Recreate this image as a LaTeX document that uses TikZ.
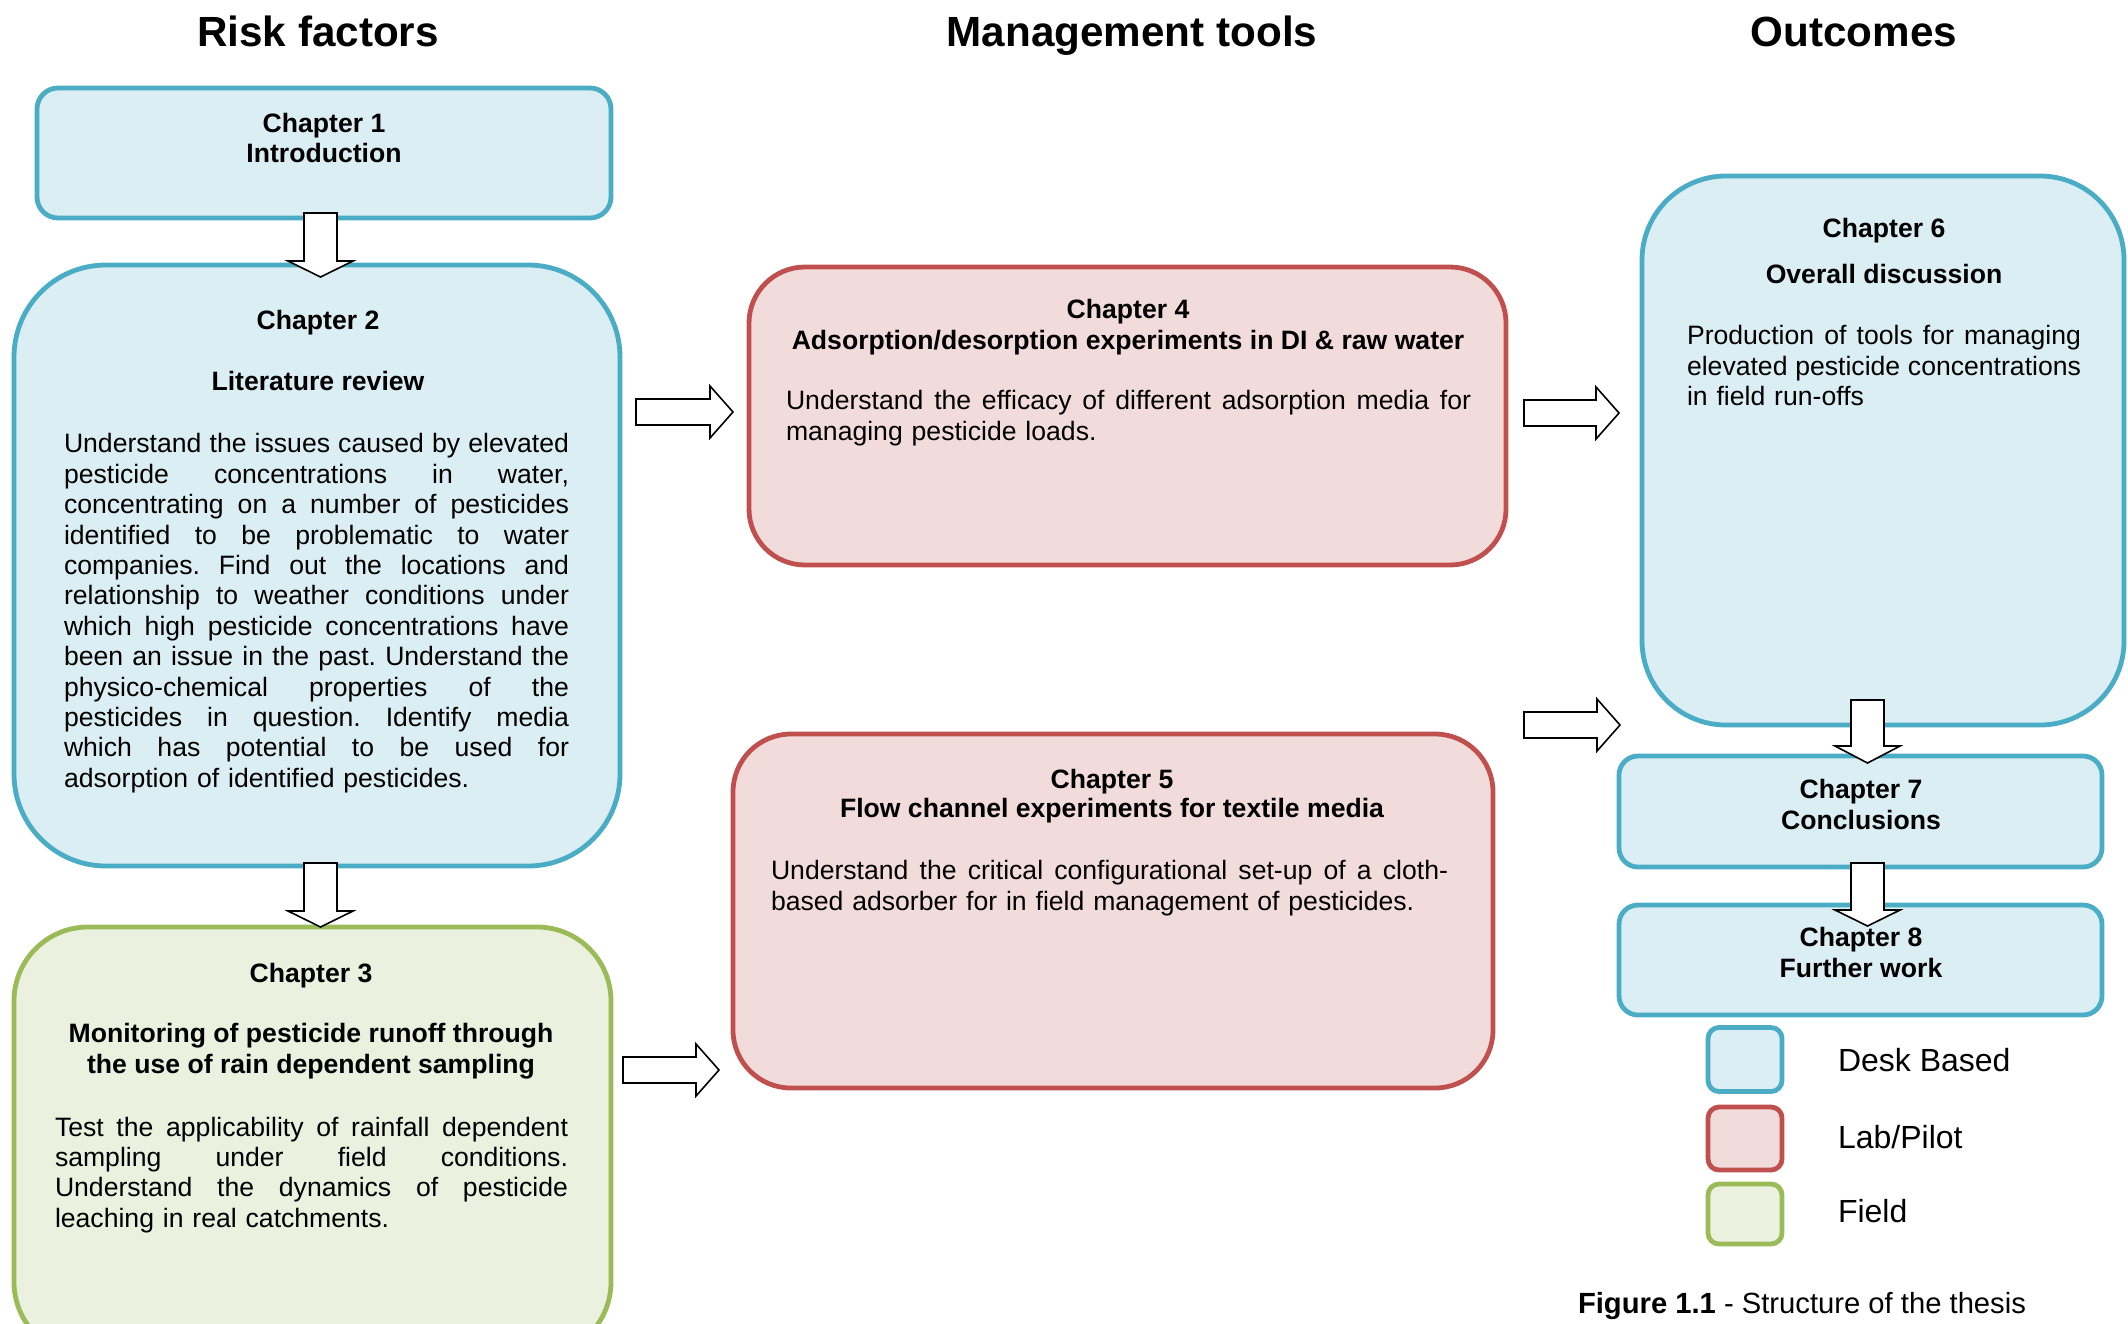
\documentclass[tikz,border=0pt]{standalone}
\usepackage{fontspec}
\setmainfont{Liberation Sans}
\usetikzlibrary{calc}
\setlength{\parindent}{0pt}
\setlength{\parskip}{0pt}
\frenchspacing
\definecolor{dbBorder}{HTML}{4BACC6}
\definecolor{dbFill}{HTML}{DAEEF3}
\definecolor{lpBorder}{HTML}{C0504D}
\definecolor{lpFill}{HTML}{F2DCDB}
\definecolor{fdBorder}{HTML}{9BBB59}
\definecolor{fdFill}{HTML}{EBF1DE}
\newlength{\jlw}
\newcommand{\jl}[1]{\hbox to \jlw{\spaceskip=0.278em plus 1fil minus 0.05em\relax #1}\par}
% name, start, tip, shaft half width, head half width, head length
\newcommand{\blockarrow}[6]{%
  \coordinate (#1-b) at ($(#3)!#6!(#2)$);
  \draw[blockarr] ($(#2)!#4!90:(#3)$) -- ($(#1-b)!#4!90:(#3)$) -- ($(#1-b)!#5!90:(#3)$)
    -- (#3) -- ($(#1-b)!#5!-90:(#3)$) -- ($(#1-b)!#4!-90:(#3)$) -- ($(#2)!#4!-90:(#3)$) -- cycle;
}
\begin{document}
\begin{tikzpicture}[x=0.5pt,y=-0.5pt,
  every node/.style={inner sep=0pt, outer sep=0pt},
  box/.style={draw, line width=2.4pt, rounded corners=#1},
  desk/.style={box=#1, draw=dbBorder, fill=dbFill},
  lab/.style={box=#1, draw=lpBorder, fill=lpFill},
  field/.style={box=#1, draw=fdBorder, fill=fdFill},
  body/.style={font=\fontsize{13.3}{15.2}\selectfont, text width=#1, anchor=north west},
  ttl/.style={font=\fontsize{13.3}{15.2}\selectfont\bfseries, anchor=base},
  colhead/.style={font=\fontsize{21.1}{25}\selectfont\bfseries, anchor=base},
  legtext/.style={font=\fontsize{16}{19}\selectfont, anchor=base west},
  blockarr/.style={draw=black, fill=white, line width=0.8pt, line join=miter}
]
\useasboundingbox (0,0) rectangle (2128,1323);

% column headings
\node[colhead] (h1) at (318,46) {Risk factors};
\node[colhead] (h2) at (1132,46) {Management tools};
\node[colhead] (h3) at (1854,46) {Outcomes};

% boxes
\node[desk=10.5pt, minimum width=287pt, minimum height=65pt] (c1) at (324,153) {};
\node[desk=46pt, minimum width=303pt, minimum height=300.5pt] (c2) at (317,565.5) {};
\node[field=37pt, minimum width=298.5pt, minimum height=214.5pt] (c3) at (312.5,1141.5) {};
\node[lab=28pt, minimum width=378.5pt, minimum height=149pt] (c4) at (1127.5,416) {};
\node[lab=29pt, minimum width=380pt, minimum height=177pt] (c5) at (1113,911) {};
\node[desk=42pt, minimum width=241pt, minimum height=274.5pt] (c6) at (1883,450.5) {};
\node[desk=9.5pt, minimum width=241.5pt, minimum height=55.5pt] (c7) at (1860.5,811.5) {};
\node[desk=9.5pt, minimum width=241.5pt, minimum height=55pt] (c8) at (1860.5,960) {};

% chapter 1
\node[ttl] (c1t1) at (324,132) {Chapter 1};
\node[ttl] (c1t2) at (324,162) {Introduction};

% chapter 2
\node[ttl] (c2t1) at (318,329) {Chapter 2};
\node[ttl] (c2t2) at (318,390) {Literature review};
\node[body=252.5pt] (c2b) at (64,431.7) {\setlength{\jlw}{252.5pt}%
\jl{\strut Understand the issues caused by elevated}
\jl{pesticide concentrations in water,}
\jl{concentrating on a number of pesticides}
\jl{identified to be problematic to water}
\jl{companies. Find out the locations and}
\jl{relationship to weather conditions under}
\jl{which high pesticide concentrations have}
\jl{been an issue in the past. Understand the}
\jl{physico-chemical properties of the}
\jl{pesticides in question. Identify media}
\jl{which has potential to be used for}
adsorption of identified pesticides.\par};

% chapter 3
\node[ttl] (c3t1) at (311,982) {Chapter 3};
\node[ttl] (c3t2) at (311,1042) {Monitoring of pesticide runoff through};
\node[ttl] (c3t3) at (311,1073) {the use of rain dependent sampling};
\node[body=256.5pt] (c3b) at (55,1114.7) {\setlength{\jlw}{256.5pt}%
\jl{\strut Test the applicability of rainfall dependent}
\jl{sampling under field conditions.}
\jl{Understand the dynamics of pesticide}
leaching in real catchments.\par};

% chapter 4
\node[ttl] (c4t1) at (1128,318) {Chapter 4};
\node[ttl] (c4t2) at (1128,349) {Adsorption/desorption experiments in DI \& raw water};
\node[body=342.5pt] (c4b) at (786,388.7) {\setlength{\jlw}{342.5pt}%
\jl{\strut Understand the efficacy of different adsorption media for}
managing pesticide loads.\par};

% chapter 5
\node[ttl] (c5t1) at (1112,788) {Chapter 5};
\node[ttl] (c5t2) at (1112,817) {Flow channel experiments for textile media};
\node[body=338.5pt] (c5b) at (771,858.7) {\setlength{\jlw}{338.5pt}%
\jl{\strut Understand the critical configurational set-up of a cloth-}
based adsorber for in field management of pesticides.\par};

% chapter 6
\node[ttl] (c6t1) at (1884,237) {Chapter 6};
\node[ttl] (c6t2) at (1884,283) {Overall discussion};
\node[body=197pt] (c6b) at (1687,323.7) {\setlength{\jlw}{197pt}%
\jl{\strut Production of tools for managing}
\jl{elevated pesticide concentrations}
in field run-offs\par};

% chapter 7 and 8
\node[ttl] (c7t1) at (1861,798) {Chapter 7};
\node[ttl] (c7t2) at (1861,829) {Conclusions};
\node[ttl] (c8t1) at (1861,946) {Chapter 8};
\node[ttl] (c8t2) at (1861,977) {Further work};

% arrows
\coordinate (a12s) at (320.5,213); \coordinate (a12e) at (320.5,277);
\coordinate (a23s) at (320.5,863); \coordinate (a23e) at (320.5,927);
\coordinate (a67s) at (1867.5,700); \coordinate (a67e) at (1867.5,763);
\coordinate (a78s) at (1867.5,863); \coordinate (a78e) at (1867.5,926);
\coordinate (a24s) at (636,412); \coordinate (a24e) at (733,412);
\coordinate (a46s) at (1524,413); \coordinate (a46e) at (1619,413);
\coordinate (a56s) at (1524,725); \coordinate (a56e) at (1620,725);
\coordinate (a35s) at (623,1070); \coordinate (a35e) at (719,1070);
\blockarrow{a12}{a12s}{a12e}{8.25pt}{16.25pt}{8pt}
\blockarrow{a23}{a23s}{a23e}{8.25pt}{16.25pt}{8pt}
\blockarrow{a67}{a67s}{a67e}{8.25pt}{16.25pt}{8.5pt}
\blockarrow{a78}{a78s}{a78e}{8.25pt}{16.25pt}{8pt}
\blockarrow{a24}{a24s}{a24e}{6.5pt}{13pt}{11.5pt}
\blockarrow{a46}{a46s}{a46e}{6.5pt}{13pt}{11.5pt}
\blockarrow{a56}{a56s}{a56e}{6.5pt}{13pt}{11.5pt}
\blockarrow{a35}{a35s}{a35e}{6.5pt}{13pt}{11.5pt}

% legend
\node[desk=5.5pt, minimum width=37pt, minimum height=32pt] (ld) at (1745,1059.5) {};
\node[lab=5.5pt, minimum width=37pt, minimum height=31.5pt] (ll) at (1745,1138.5) {};
\node[field=5.5pt, minimum width=37pt, minimum height=30pt] (lf) at (1745,1214) {};
\node[legtext] (ldt) at (1838,1071) {Desk Based};
\node[legtext] (llt) at (1838,1148) {Lab/Pilot};
\node[legtext] (lft) at (1838,1222) {Field};

% caption
\node[font=\fontsize{14.6}{17}\selectfont, anchor=base west] (cap) at (1578,1313) {\textbf{Figure 1.1} - Structure of the thesis};
\end{tikzpicture}
\end{document}
